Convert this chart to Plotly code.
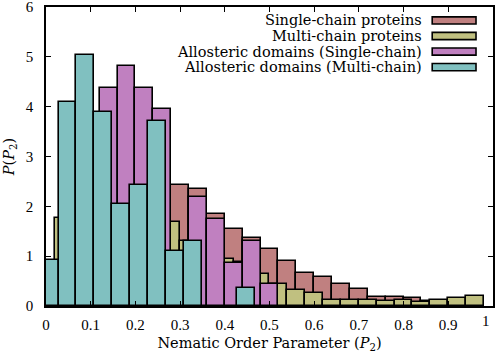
"""Histogram of nematic order parameter P2 for protein sets (gnuplot-like style)."""
import plotly.graph_objects as go

BIN_WIDTH = 0.04

# bin heights; each series has its own bin offset
single_start = 0.0      # first bin: 0.00 - 0.04
single_chain = [0.45, 1.3, 2.2, 2.8, 3.0, 2.9, 2.7, 2.42, 2.35, 1.85, 1.54, 1.37,
                1.15, 0.91, 0.66, 0.58, 0.44, 0.34, 0.19, 0.18, 0.17, 0.10, 0.08,
                0.06, None]

multi_start = -0.02     # first bin: -0.02 - 0.02
multi_chain = [0.6, 1.76, 2.0, 2.2, 2.0, 1.9, 1.8, 1.69, 1.31, 1.2, 0.94, 0.89,
               0.64, 0.44, 0.32, 0.26, 0.13, 0.13, 0.13, 0.095, 0.12, 0.075, 0.12,
               0.17, 0.20]

allo_single_start = 0.0
allo_single = [0.5, 2.0, 3.0, 4.38, 4.82, 4.38, 3.95, 1.0, 2.18, 1.75, 0.87, 1.31,
               0.44]

allo_multi_start = -0.012
allo_multi = [0.92, 4.09, 5.03, 3.90, 2.04, 2.42, 3.72, 1.11, 1.31, None, None, 0.37]

series = [
    ("Single-chain proteins", single_start, single_chain, "#c08080"),
    ("Multi-chain proteins", multi_start, multi_chain, "#c0c080"),
    ("Allosteric domains (Single-chain)", allo_single_start, allo_single, "#c080c0"),
    ("Allosteric domains (Multi-chain)", allo_multi_start, allo_multi, "#80c0c0"),
]

x_ticks = [0, 0.1, 0.2, 0.3, 0.4, 0.5, 0.6, 0.7, 0.8, 0.9, 1]
x_ticktext = ["0", "0.1", "0.2", "0.3", "0.4", "0.5", "0.6", "0.7", "0.8", "0.9", "1"]
y_ticks = [0, 1, 2, 3, 4, 5, 6]

TICK_FONT = "Liberation Serif"
TEXT_FONT = "DejaVu Serif"

fig = go.Figure()
for name, start, values, color in series:
    centers = [start + BIN_WIDTH * (i + 0.5) for i in range(len(values))]
    fig.add_trace(
        go.Bar(
            x=centers,
            y=values,
            width=BIN_WIDTH,
            name=name,
            marker=dict(color=color, line=dict(color="black", width=1.6)),
            showlegend=False,
        )
    )

# gnuplot-style key: text right-aligned, sample box on the right
row_y = [0.955, 0.903, 0.851, 0.799]
for (name, _, _, color), y in zip(series, row_y):
    fig.add_annotation(
        x=0.845, y=y, xref="paper", yref="paper", text=name,
        showarrow=False, xanchor="right", yanchor="middle",
        font=dict(family=TEXT_FONT, size=14.5, color="black"),
    )
    fig.add_shape(
        type="rect", xref="paper", yref="paper",
        x0=0.864, x1=0.962, y0=y - 0.012, y1=y + 0.012,
        fillcolor=color, line=dict(color="black", width=1.6),
    )

# the last x tick label gets lost at the right edge, so draw it as text
fig.add_annotation(
    x=0.997, y=0, xref="paper", yref="paper", text=x_ticktext[-1],
    showarrow=False, xanchor="right", yanchor="top", yshift=-5,
    font=dict(family=TICK_FONT, size=15, color="black"),
)

axis_common = dict(
    showline=True, linecolor="black", linewidth=1.6, mirror="ticks",
    ticks="inside", ticklen=5, tickwidth=1.2, tickcolor="black",
    showgrid=False, zeroline=False, automargin=False,
    ticklabeloverflow="allow",
    tickfont=dict(family=TICK_FONT, size=15, color="black"),
)

fig.update_layout(
    width=498, height=356,
    margin=dict(l=46, r=5, t=7, b=50),
    barmode="overlay",
    bargap=0,
    plot_bgcolor="white",
    paper_bgcolor="white",
    xaxis=dict(
        range=[0, 1.0002], tickvals=x_ticks, ticktext=x_ticktext[:-1] + [""],
        ticklabelstandoff=4,
        title=dict(text="Nematic Order Parameter (<i>P</i><sub>2</sub>)",
                   font=dict(family=TEXT_FONT, size=14.5, color="black"), standoff=6),
        **axis_common,
    ),
    yaxis=dict(
        range=[0, 6], tickvals=y_ticks,
        ticklabelstandoff=8,
        title=dict(text="<i>P</i>(<i>P</i><sub>2</sub>)",
                   font=dict(family=TEXT_FONT, size=14.5, color="black"), standoff=8),
        **axis_common,
    ),
)

# drop the default page margin so the figure sits at the window origin
fig.write_html(
    "out.html",
    config={"displayModeBar": False},
    post_script="document.body.style.margin = '0'; document.body.style.overflow = 'hidden';",
)
